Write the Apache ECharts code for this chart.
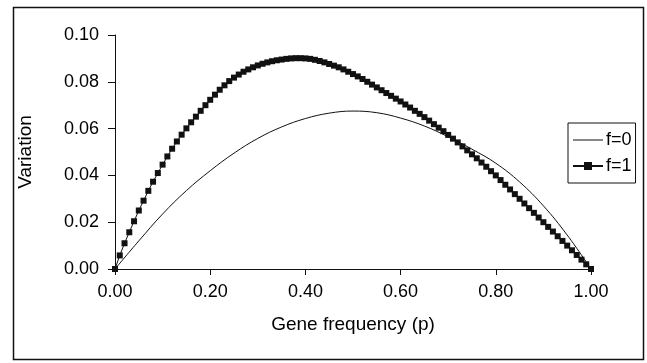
<!DOCTYPE html>
<html>
<head>
<meta charset="utf-8">
<script src="https://cdn.jsdelivr.net/npm/echarts@6/dist/echarts.min.js"></script>
<style>
html,body{margin:0;padding:0;background:#fff;}
#chart{width:647px;height:363px;}
</style>
</head>
<body>
<div id="chart"></div>
<script>
// f=0 curve (read at p step 0.05)
const pF0 = [0,0.05,0.10,0.15,0.20,0.25,0.30,0.35,0.40,0.45,0.50,0.55,0.60,0.65,0.70,0.75,0.80,0.85,0.90,0.95,1.00];
const vF0 = [0,0.0120,0.0235,0.0335,0.0420,0.0495,0.0558,0.0607,0.0643,0.0666,0.0675,0.0668,0.0645,0.0611,0.0565,0.0512,0.0452,0.0372,0.0270,0.0145,0];

// f=1 curve (read at p step 0.01)
const pF1 = [0,0.01,0.02,0.03,0.04,0.05,0.06,0.07,0.08,0.09,
  0.10,0.11,0.12,0.13,0.14,0.15,0.16,0.17,0.18,0.19,
  0.20,0.21,0.22,0.23,0.24,0.25,0.26,0.27,0.28,0.29,
  0.30,0.31,0.32,0.33,0.34,0.35,0.36,0.37,0.38,0.39,
  0.40,0.41,0.42,0.43,0.44,0.45,0.46,0.47,0.48,0.49,
  0.50,0.51,0.52,0.53,0.54,0.55,0.56,0.57,0.58,0.59,
  0.60,0.61,0.62,0.63,0.64,0.65,0.66,0.67,0.68,0.69,
  0.70,0.71,0.72,0.73,0.74,0.75,0.76,0.77,0.78,0.79,
  0.80,0.81,0.82,0.83,0.84,0.85,0.86,0.87,0.88,0.89,
  0.90,0.91,0.92,0.93,0.94,0.95,0.96,0.97,0.98,0.99,1.00];
const vF1 = [0,0.0058,0.0110,0.0157,0.0204,0.0250,0.0292,0.0334,0.0373,0.0410,
  0.0446,0.0481,0.0514,0.0545,0.0574,0.0601,0.0627,0.0651,0.0676,0.0700,
  0.0723,0.0745,0.0766,0.0785,0.0803,0.0818,0.0831,0.0843,0.0853,0.0862,
  0.0870,0.0877,0.0883,0.0888,0.0892,0.0895,0.0898,0.0900,0.0901,0.0901,
  0.0900,0.0898,0.0894,0.0889,0.0883,0.0876,0.0869,0.0862,0.0853,0.0843,
  0.0833,0.0823,0.0812,0.0800,0.0788,0.0776,0.0764,0.0752,0.0740,0.0728,
  0.0716,0.0703,0.0690,0.0676,0.0663,0.0649,0.0634,0.0619,0.0604,0.0589,
  0.0573,0.0557,0.0541,0.0524,0.0507,0.0490,0.0473,0.0455,0.0437,0.0418,
  0.0400,0.0380,0.0360,0.0340,0.0320,0.0300,0.0280,0.0260,0.0240,0.0220,
  0.0200,0.0180,0.0160,0.0140,0.0120,0.0100,0.0080,0.0060,0.0040,0.0020,0];

const seriesNames = ['f=0','f=1'];
const xName = 'Gene frequency (p)';
const yName = 'Variation';

const FONT = '"Liberation Sans", Arial, sans-serif';
const chart = echarts.init(document.getElementById('chart'), null, {renderer:'canvas'});
chart.setOption({
  animation:false,
  backgroundColor:'#fff',
  graphic:[{
    type:'rect', z:-1,
    shape:{x:13.5,y:7.5,width:630,height:352},
    style:{fill:'none',stroke:'#111',lineWidth:1.5}
  }],
  grid:{left:115,right:56,top:35,bottom:94,containLabel:false},
  legend:{
    orient:'vertical', left:568, top:123,
    padding:[8,4,8,4], itemGap:8,
    itemWidth:30, itemHeight:10,
    borderColor:'#111', borderWidth:1,
    textStyle:{fontFamily:FONT,fontSize:18,color:'#000',padding:[0,0,0,-2]},
    data:[
      {name:seriesNames[0], icon:'path://M0,0h30v1h-30z'},
      {name:seriesNames[1]}
    ]
  },
  xAxis:{
    type:'value', min:0, max:1, interval:0.2,
    name:xName, nameLocation:'middle', nameGap:46,
    nameTextStyle:{fontFamily:FONT,fontSize:19,color:'#000'},
    axisLine:{show:true,onZero:false,lineStyle:{color:'#111',width:1}},
    axisTick:{show:true,inside:false,length:6,lineStyle:{color:'#111'}},
    axisLabel:{fontFamily:FONT,fontSize:18,color:'#000',margin:14,formatter:v=>v.toFixed(2)},
    splitLine:{show:false}
  },
  yAxis:{
    type:'value', min:0, max:0.1, interval:0.02,
    name:yName, nameLocation:'middle', nameGap:80, nameRotate:90,
    nameTextStyle:{fontFamily:FONT,fontSize:19,color:'#000'},
    axisLine:{show:true,onZero:false,lineStyle:{color:'#111',width:1}},
    axisTick:{show:true,inside:false,length:7,lineStyle:{color:'#111'}},
    axisLabel:{fontFamily:FONT,fontSize:18,color:'#000',margin:16,formatter:v=>v.toFixed(2)},
    splitLine:{show:false}
  },
  series:[
    {
      name:seriesNames[0], type:'line', smooth:0.4, symbol:'none',
      lineStyle:{color:'#111',width:1},
      itemStyle:{color:'#111'},
      data:pF0.map((p,i)=>[p,vF0[i]])
    },
    {
      name:seriesNames[1], type:'line', symbol:'rect', symbolSize:6,
      showAllSymbol:true,
      lineStyle:{color:'#111',width:1},
      itemStyle:{color:'#111'},
      data:pF1.map((p,i)=>[p,vF1[i]])
    }
  ]
});
</script>
</body>
</html>
